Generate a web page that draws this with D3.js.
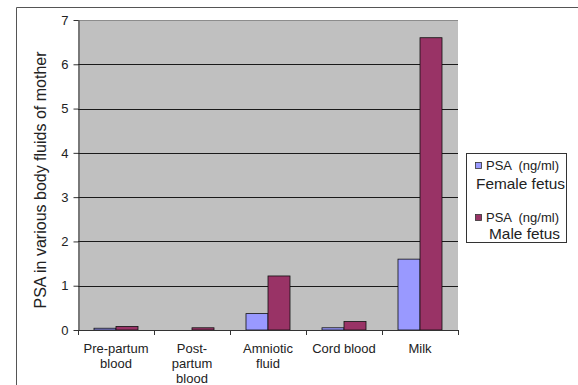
<!DOCTYPE html>
<html>
<head>
<meta charset="utf-8">
<script src="https://cdn.jsdelivr.net/npm/d3@7"></script>
<style>
  html, body { margin: 0; padding: 0; background: #fff; }
  svg { display: block; font-family: "Liberation Sans", Arial, sans-serif; }
</style>
</head>
<body>
<svg id="chart" width="578" height="385"></svg>
<script>
// Sample fluids (line breaks mark how each label wraps)
const categories = ["Pre-partum\nblood", "Post-\npartum\nblood", "Amniotic\nfluid", "Cord blood", "Milk"];
const seriesUnits = ["PSA  (ng/ml)", "PSA  (ng/ml)"];
const seriesNames = ["Female fetus", "Male fetus"];
const femaleValues = [0.04, 0.0, 0.37, 0.05, 1.6];
const maleValues = [0.08, 0.05, 1.22, 0.19, 6.6];
const yTicks = [0, 1, 2, 3, 4, 5, 6, 7];
const colors = ["#9999ff", "#993366"];

const svg = d3.select("#chart");
const plot = { left: 78, right: 458, top: 20, bottom: 330 };

// outer frame
svg.append("path")
  .attr("d", "M16.5,385 V7.5 H578")
  .attr("fill", "none").attr("stroke", "#555").attr("stroke-width", 1);

const x = d3.scaleBand().domain(d3.range(categories.length)).range([plot.left, plot.right]).padding(0);
const xSub = d3.scaleBand().domain([0, 1]).range([0, x.bandwidth()]).paddingInner(0).paddingOuter(0.727);
const y = d3.scaleLinear().domain([0, 7]).range([plot.bottom, plot.top]);

// plot background
svg.append("rect")
  .attr("x", plot.left).attr("y", plot.top)
  .attr("width", plot.right - plot.left).attr("height", plot.bottom - plot.top)
  .attr("fill", "#c0c0c0");

// gridlines
svg.append("g").selectAll("line")
  .data(yTicks.filter(t => t > 0 && t < 7))
  .join("line")
  .attr("x1", plot.left).attr("x2", plot.right)
  .attr("y1", d => Math.round(y(d)) + 0.5).attr("y2", d => Math.round(y(d)) + 0.5)
  .attr("stroke", "#1a1a1a").attr("stroke-width", 1);

svg.append("line")
  .attr("x1", plot.left).attr("x2", plot.right)
  .attr("y1", Math.round(y(7)) + 0.5).attr("y2", Math.round(y(7)) + 0.5)
  .attr("stroke", "#8c8c8c");

// bars
const data = categories.map((c, i) => [femaleValues[i], maleValues[i]]);
const groups = svg.append("g").selectAll("g")
  .data(data).join("g")
  .attr("transform", (d, i) => `translate(${x(i)},0)`);
groups.selectAll("rect")
  .data(d => d.map((v, s) => ({ v, s })))
  .join("rect")
  .attr("x", d => xSub(d.s))
  .attr("width", xSub.bandwidth())
  .attr("y", d => y(d.v))
  .attr("height", d => y(0) - y(d.v))
  .attr("fill", d => colors[d.s])
  .attr("stroke", d => d.v > 0 ? "#111" : "none")
  .attr("stroke-width", 0.8);

// y axis
const yAxis = svg.append("g")
  .attr("transform", `translate(${plot.left + 0.5},0)`)
  .call(d3.axisLeft(y).tickValues(yTicks).tickFormat(d3.format("d"))
    .tickSize(5).tickSizeOuter(0).tickPadding(5));
yAxis.select(".domain").attr("stroke", "#333");
yAxis.selectAll(".tick line").attr("stroke", "#333");
yAxis.selectAll(".tick text").attr("font-size", 13).attr("fill", "#222")
  .attr("font-family", "Liberation Sans, Arial, sans-serif");

// x axis: tick marks at category boundaries
const bounds = d3.range(categories.length + 1).map(i => i < categories.length ? x(i) : plot.right);
const xAxis = svg.append("g");
xAxis.append("line")
  .attr("x1", plot.left).attr("x2", plot.right)
  .attr("y1", plot.bottom + 0.5).attr("y2", plot.bottom + 0.5)
  .attr("stroke", "#333");
xAxis.selectAll(".bt").data(bounds).join("line")
  .attr("x1", d => Math.round(d) + 0.5).attr("x2", d => Math.round(d) + 0.5)
  .attr("y1", plot.bottom).attr("y2", plot.bottom + 5)
  .attr("stroke", "#333");

const labels = xAxis.selectAll(".lbl").data(categories).join("text")
  .attr("x", (d, i) => x(i) + x.bandwidth() / 2)
  .attr("y", 353)
  .attr("text-anchor", "middle")
  .attr("font-size", 13)
  .attr("fill", "#222");
labels.selectAll("tspan")
  .data(d => d.split("\n"))
  .join("tspan")
  .attr("x", function () { return this.parentNode.getAttribute("x"); })
  .attr("dy", (d, i) => i === 0 ? 0 : 15)
  .text(d => d);

// y axis title
svg.append("text")
  .attr("transform", "translate(46,180) rotate(-90)")
  .attr("text-anchor", "middle")
  .attr("font-size", 16)
  .attr("fill", "#222")
  .text("PSA in various body fluids of mother");

// legend
const legend = svg.append("g");
legend.append("rect")
  .attr("x", 466.5).attr("y", 153.5).attr("width", 100).attr("height", 89)
  .attr("fill", "#fff").attr("stroke", "#333");
const items = legend.selectAll(".item").data(seriesNames).join("g")
  .attr("transform", (d, i) => `translate(0,${i * 52})`);
items.append("rect")
  .attr("x", 475.5).attr("y", 162.5).attr("width", 6).attr("height", 6)
  .attr("fill", (d, i) => colors[i]).attr("stroke", "#333").attr("stroke-width", 0.8);
items.append("text")
  .attr("x", 486).attr("y", 169.5)
  .attr("font-size", 13).attr("fill", "#222")
  .style("white-space", "pre")
  .text((d, i) => seriesUnits[i]);
items.append("text")
  .attr("x", (d, i) => i === 0 ? 476 : 489)
  .attr("y", (d, i) => i === 0 ? 189 : 187)
  .attr("font-size", 15).attr("fill", "#222")
  .attr("textLength", (d, i) => i === 0 ? 89 : 71)
  .attr("lengthAdjust", "spacingAndGlyphs")
  .text(d => d);
</script>
</body>
</html>
